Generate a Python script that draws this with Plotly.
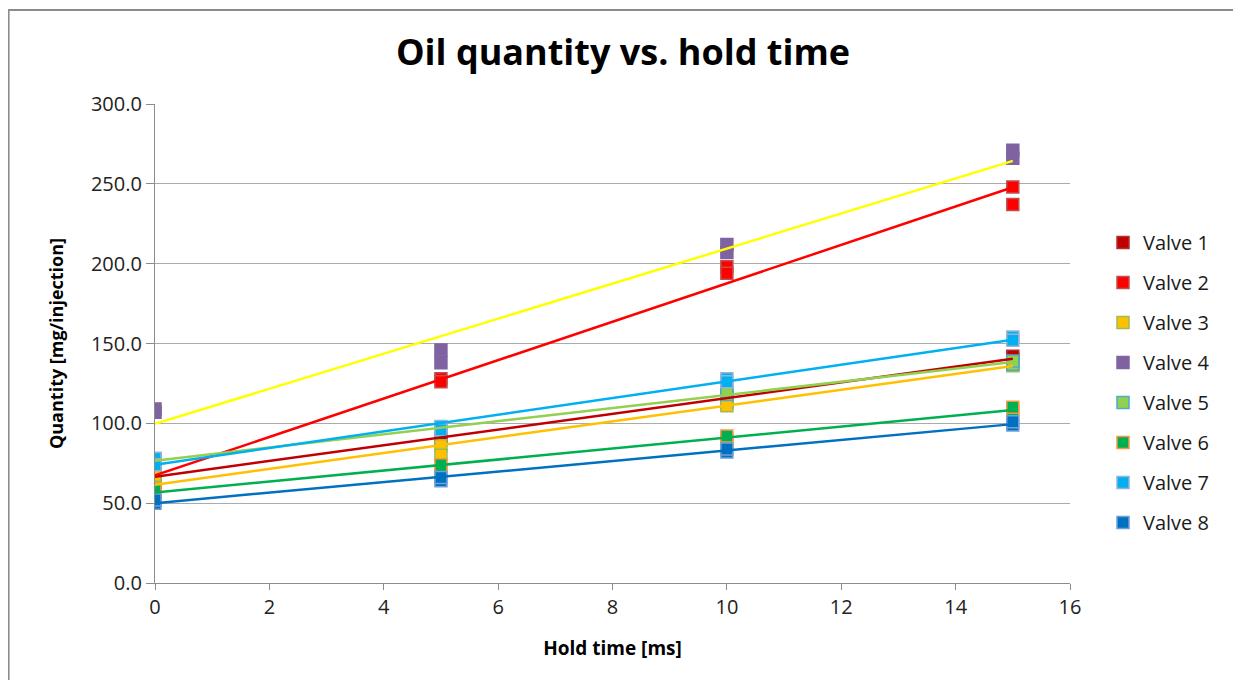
import numpy as np
import plotly.graph_objects as go

# ---- data -------------------------------------------------------------
hold_time = [0, 0, 5, 5, 10, 10, 15, 15]          # ms, two repetitions each

valve_names = ["Valve 1", "Valve 2", "Valve 3", "Valve 4",
               "Valve 5", "Valve 6", "Valve 7", "Valve 8"]

valve1 = [66, 68, 90, 92, 114, 116, 140, 142]
valve2 = [64, 66, 128, 126, 198, 194, 248, 237]
valve3 = [67, 60, 86, 80, 113, 111, 137, 136]
valve4 = [109, 107, 146, 138, 212, 207, 271, 266]
valve5 = [76, 78, 95, 97, 118, 120, 137, 139]
valve6 = [57, 59, 74, 70, 90, 92, 108, 110]
valve7 = [78, 74, 98, 96, 128, 126, 154, 152]
valve8 = [50, 52, 64, 66, 82, 84, 99, 101]

x_ticks = [0, 2, 4, 6, 8, 10, 12, 14, 16]
y_ticks = [0, 50, 100, 150, 200, 250, 300]

# ---- styles -----------------------------------------------------------
fill_colors = ["#C00000", "#FF0000", "#FFC000", "#7F62A0",
               "#92D050", "#00B050", "#00B0F0", "#0070C0"]
edge_colors = ["#B03030", "#C0504D", "#9BBB59", "#8064A2",
               "#4BACC6", "#F79646", "#95B3D7", "#6FA0D8"]
trend_colors = ["#C00000", "#FF0000", "#FFC000", "#FFFF00",
                "#92D050", "#00B050", "#00B0F0", "#0070C0"]

series = [valve1, valve2, valve3, valve4, valve5, valve6, valve7, valve8]

FONT = "Open Sans"

fig = go.Figure()

# markers first
for i, (name, ys) in enumerate(zip(valve_names, series)):
    fig.add_trace(go.Scatter(
        x=hold_time, y=ys, mode="markers", name=name,
        legendgroup=name,
        marker=dict(symbol="square", size=12, color=fill_colors[i],
                    line=dict(color=edge_colors[i], width=1.5)),
    ))

# linear trend lines on top (Excel style)
xs = np.array(hold_time, dtype=float)
x_line = np.array([xs.min(), xs.max()])
for i, (name, ys) in enumerate(zip(valve_names, series)):
    slope, intercept = np.polyfit(xs, np.array(ys, dtype=float), 1)
    fig.add_trace(go.Scatter(
        x=x_line, y=slope * x_line + intercept, mode="lines",
        line=dict(color=trend_colors[i], width=2.5),
        showlegend=False, legendgroup=name, hoverinfo="skip",
    ))

# page has an 8px body margin; the figure is laid out in its own coordinates
OFF = 8
W, H = 1241 - OFF, 680 - OFF
L, T = 155 - OFF, 104 - OFF
R = W - (1070 - OFF)
B = H - (583 - OFF)
pw, ph = W - L - R, H - T - B

def px_x(p):          # page pixel -> paper x
    return (p - OFF - L) / pw

def px_y(p):          # page pixel -> paper y
    return (H - B - (p - OFF)) / ph

fig.update_layout(
    width=W, height=H,
    margin=dict(l=L, r=R, t=T, b=B),
    paper_bgcolor="white", plot_bgcolor="white",
    font=dict(family=FONT, color="#222222"),
    title=dict(text="<b>Oil quantity vs. hold time</b>",
               font=dict(family=FONT, size=36, color="#000000"),
               xref="container", x=(623 - OFF) / W, xanchor="center",
               yref="container", y=1 - (52 - OFF) / H, yanchor="middle"),
    xaxis=dict(range=[0, 16], tickvals=x_ticks, ticktext=[str(v) for v in x_ticks],
               showgrid=False, zeroline=False,
               showline=True, linecolor="#8C8C8C", linewidth=1.2,
               ticks="outside", ticklen=6, tickcolor="#8C8C8C",
               tickfont=dict(family=FONT, size=20, color="#222222"),
               title=dict(text="<b>Hold time [ms]</b>", standoff=22,
                          font=dict(family=FONT, size=19, color="#000000"))),
    yaxis=dict(range=[0, 300], tickvals=y_ticks,
               ticktext=[f"{v:.1f}" for v in y_ticks],
               showgrid=True, gridcolor="#ABABAB", gridwidth=1,
               zeroline=False,
               showline=True, linecolor="#8C8C8C", linewidth=1.2,
               ticks="outside", ticklen=8, tickcolor="#8C8C8C",
               tickfont=dict(family=FONT, size=20, color="#222222"),
               title=dict(text="<b>Quantity [mg/injection]</b>", standoff=22,
                          font=dict(family=FONT, size=18, color="#000000"))),
    legend=dict(x=px_x(1103), xanchor="left", y=px_y(223), yanchor="top",
                font=dict(family=FONT, size=20, color="#1A1A1A"),
                tracegroupgap=11, bgcolor="rgba(0,0,0,0)"),
    shapes=[dict(type="rect", xref="paper", yref="paper",
                 x0=px_x(8.5), x1=px_x(1239.5), y0=px_y(700), y1=px_y(10),
                 line=dict(color="#8C8C8C", width=2.2), layer="below")],
)

fig.write_html("out.html")
